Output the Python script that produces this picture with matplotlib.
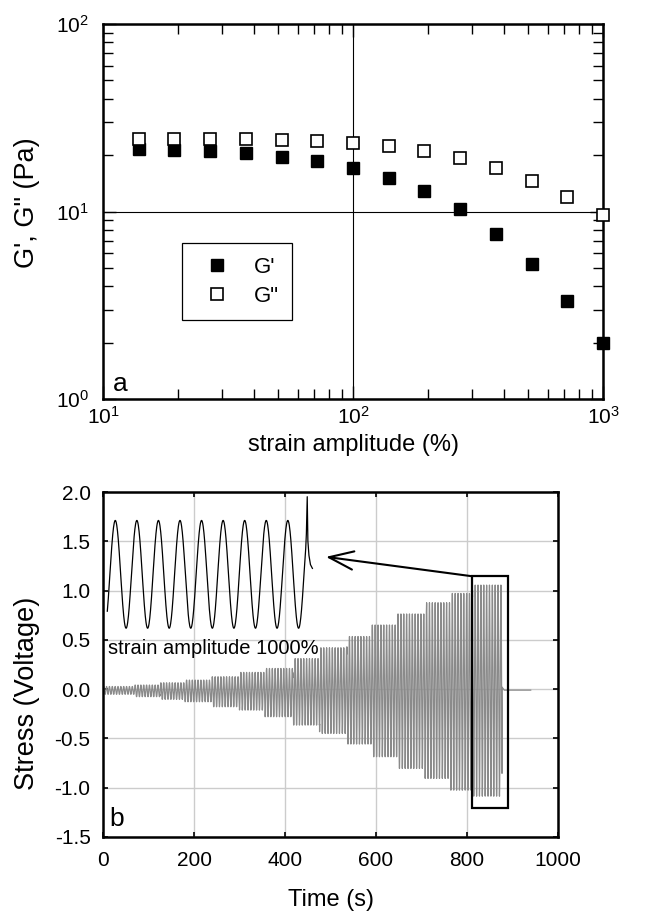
import matplotlib

matplotlib.use("Agg")
import matplotlib.pyplot as plt
from matplotlib.patches import Rectangle
import numpy as np

plt.rcParams["font.family"] = ["Liberation Sans", "DejaVu Sans"]
plt.rcParams["mathtext.fontset"] = "custom"
plt.rcParams["mathtext.rm"] = "Liberation Sans"
plt.rcParams["mathtext.it"] = "Liberation Sans:italic"
plt.rcParams["axes.unicode_minus"] = False

# panel a: amplitude sweep
strain = [13.9, 19.3, 26.8, 37.3, 51.8, 72.0, 100, 139, 193, 268, 373, 518, 720, 1000]
g_storage = [21.5, 21.3, 21.1, 20.4, 19.6, 18.5, 17.1, 15.1, 12.8, 10.3, 7.6, 5.25, 3.34, 2.0]
g_loss = [24.4, 24.4, 24.4, 24.3, 24.0, 23.8, 23.1, 22.3, 20.9, 19.2, 17.0, 14.6, 12.0, 9.55]

# panel b: raw stress signal, one block per strain step
step_edges = [2, 70, 125, 180, 238, 300, 356, 417, 476, 536, 590, 648, 707, 763, 812, 877]
step_top = [0.027, 0.042, 0.065, 0.092, 0.126, 0.17, 0.21, 0.31, 0.42, 0.534,
            0.651, 0.763, 0.877, 0.971, 1.056]
step_bottom = [-0.053, -0.077, -0.104, -0.128, -0.179, -0.213, -0.28, -0.365, -0.45,
               -0.557, -0.686, -0.805, -0.906, -1.025, -1.086]
osc_period = 6.28
tail_t = [877, 882, 940]
tail_y = [0.02, -0.01, -0.01]

# inset: last step, in cycles / normalised stress
inset_start, inset_stop = -0.37, 8.83
spike_c = [8.86, 8.90, 8.93, 8.98, 9.05, 9.14]
spike_y = [0.75, 1.44, 0.62, 0.35, 0.18, 0.11]


def main():
    fig = plt.figure(figsize=(6.64, 9.15), dpi=100)
    W, H = 664, 915

    # ---- a ----
    ax = fig.add_axes([103 / W, 1 - 399 / H, 500 / W, 375 / H])
    ax.set_xscale("log")
    ax.set_yscale("log")
    ax.set_xlim(10, 1000)
    ax.set_ylim(1, 100)
    ax.grid(True, which="major", color="k", linewidth=0.8)
    ax.plot(strain, g_storage, "s", ms=8, color="k", mec="k", clip_on=False,
            label="G'", zorder=3)
    ax.plot(strain, g_loss, "s", ms=8, mfc="white", mec="k", mew=1.2, clip_on=False,
            label='G"', zorder=4)
    ax.tick_params(which="both", direction="in", top=True, right=True, labelsize=15, width=1)
    ax.tick_params(which="major", length=9.5)
    ax.tick_params(which="minor", length=7)
    ax.tick_params(axis="x", pad=5)
    ax.tick_params(axis="y", pad=10)
    for s in ax.spines.values():
        s.set_linewidth(1.8)
    leg = ax.legend(loc="lower left", bbox_to_anchor=(0.157, 0.211), borderaxespad=0,
                    fancybox=False, edgecolor="k", framealpha=1, fontsize=16,
                    borderpad=0.6, handlelength=2.0, handletextpad=0.65,
                    labelspacing=0.35, numpoints=1)
    leg.get_frame().set_linewidth(0.9)
    ax.set_xlabel("strain amplitude (%)", fontsize=17)
    ax.set_ylabel('G\', G" (Pa)', fontsize=19.5)
    ax.xaxis.set_label_coords(0.5, -0.093)
    ax.yaxis.set_label_coords(-0.126, 0.523)
    ax.text(0.019, 0.022, "a", transform=ax.transAxes, fontsize=19, va="baseline")

    # ---- b ----
    bx = fig.add_axes([103 / W, 1 - 837 / H, 455 / W, 345 / H])
    bx.set_xlim(0, 1000)
    bx.set_ylim(-1.5, 2.0)
    bx.set_xticks(np.arange(0, 1001, 200))
    bx.set_yticks(np.arange(-1.5, 2.01, 0.5))
    bx.yaxis.set_major_formatter(matplotlib.ticker.FormatStrFormatter("%.1f"))
    bx.set_axisbelow(True)
    bx.grid(True, color="#cccccc", linewidth=1.0)

    t_all, y_all = [], []
    for i in range(len(step_top)):
        t = np.arange(step_edges[i], step_edges[i + 1], 0.08)
        mid = (step_top[i] + step_bottom[i]) / 2
        amp = (step_top[i] - step_bottom[i]) / 2
        t_all.append(t)
        y_all.append(mid + amp * np.sin(2 * np.pi * t / osc_period))
    t_all.append(np.array(tail_t))
    y_all.append(np.array(tail_y))
    bx.plot(np.concatenate(t_all), np.concatenate(y_all), color="#8a8a8a", lw=0.9)

    bx.add_patch(Rectangle((810, -1.21), 80, 2.357, fill=False, ec="k", lw=1.6, zorder=5))
    bx.annotate("", xy=(490, 1.342), xytext=(810, 1.146),
                arrowprops=dict(arrowstyle="->, head_length=0.8, head_width=0.3",
                                lw=1.5, color="k", mutation_scale=22,
                                shrinkA=0, shrinkB=0), zorder=5)

    ins = bx.inset_axes([3.3, 0.454, 474, 1.531], transform=bx.transData)
    ins.set_xlim(-0.5, 9.5)
    ins.set_ylim(-1.3, 1.5)
    ins.axis("off")
    c = np.linspace(inset_start, inset_stop, 800)
    ins.plot(np.concatenate([c, spike_c]), np.concatenate([np.cos(2 * np.pi * c), spike_y]),
             color="k", lw=0.9)

    bx.text(11, 0.36, "strain amplitude 1000%", fontsize=14.5, va="baseline")
    bx.text(0.015, 0.032, "b", transform=bx.transAxes, fontsize=19, va="baseline")

    bx.tick_params(which="both", direction="in", top=True, right=True, labelsize=15,
                   length=3.5, width=1.2)
    bx.tick_params(axis="x", pad=10)
    bx.tick_params(axis="y", pad=9)
    for s in bx.spines.values():
        s.set_linewidth(1.8)
    bx.set_xlabel("Time (s)", fontsize=17)
    bx.set_ylabel("Stress (Voltage)", fontsize=19.5)
    bx.xaxis.set_label_coords(0.5, -0.151)
    bx.yaxis.set_label_coords(-0.138, 0.417)

    fig.savefig("out.png", dpi=100)


if __name__ == "__main__":
    main()
